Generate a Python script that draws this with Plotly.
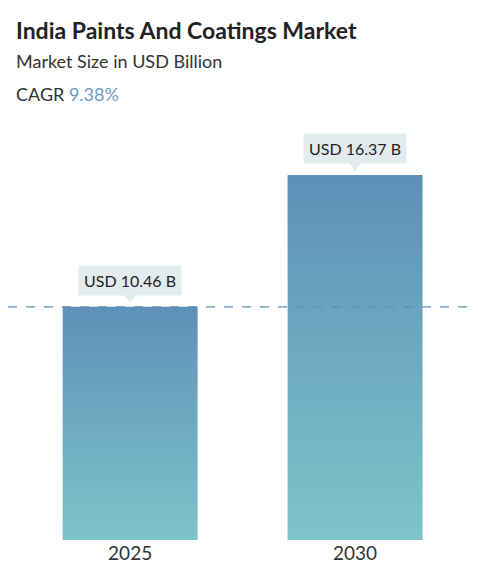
import plotly.graph_objects as go

years = ["2025", "2030"]
values = [10.46, 16.37]
labels = ["USD 10.46 B", "USD 16.37 B"]
cagr = "9.38%"

fig = go.Figure()

half = 0.3
for i, v in enumerate(values):
    fig.add_trace(go.Scatter(
        x=[i - half, i + half, i + half, i - half, i - half],
        y=[0, 0, v, v, 0],
        fill="toself", mode="lines", line=dict(width=0),
        fillgradient=dict(type="vertical",
                          colorscale=[[0, "#7ec4c9"], [1, "#5d90b8"]]),
        hoverinfo="skip", showlegend=False,
    ))

# value callout pointers
fig.add_trace(go.Scatter(
    x=list(range(len(values))), y=[v + 0.42 for v in values],
    mode="markers", marker=dict(symbol="triangle-down", size=11, color="#e2ebee"),
    hoverinfo="skip", showlegend=False,
))

for i, (v, t) in enumerate(zip(values, labels)):
    fig.add_annotation(x=i, y=v + 1.2, text=t, showarrow=False,
                       font=dict(family="Lato", size=16, color="#222"),
                       bgcolor="#e2ebee", borderpad=5)

fig.add_hline(y=values[0], line=dict(color="#5d90b8", width=1.2, dash="dash"))

fig.add_annotation(xref="paper", yref="paper", x=0.012, y=1.283, xanchor="left",
                   text="<b>India Paints And Coatings Market</b>", showarrow=False,
                   font=dict(family="Lato", size=23, color="#222"))
fig.add_annotation(xref="paper", yref="paper", x=0.012, y=1.200, xanchor="left",
                   text="Market Size in USD Billion", showarrow=False,
                   font=dict(family="Lato", size=18, color="#333"))
fig.add_annotation(xref="paper", yref="paper", x=0.012, y=1.119, xanchor="left",
                   text="CAGR <span style='color:#6a9cc4'>" + cagr + "</span>", showarrow=False,
                   font=dict(family="Lato", size=18, color="#333"))

fig.update_layout(
    width=478, height=580, margin=dict(l=0, r=0, t=122, b=48),
    plot_bgcolor="white", paper_bgcolor="white",
    xaxis=dict(range=[-0.543, 1.582], tickvals=[0, 1], ticktext=years,
               showgrid=False, zeroline=False, showline=False,
               tickfont=dict(family="Lato", size=19, color="#333")),
    yaxis=dict(range=[0, 18.39], visible=False),
)

fig.write_html("out.html")
